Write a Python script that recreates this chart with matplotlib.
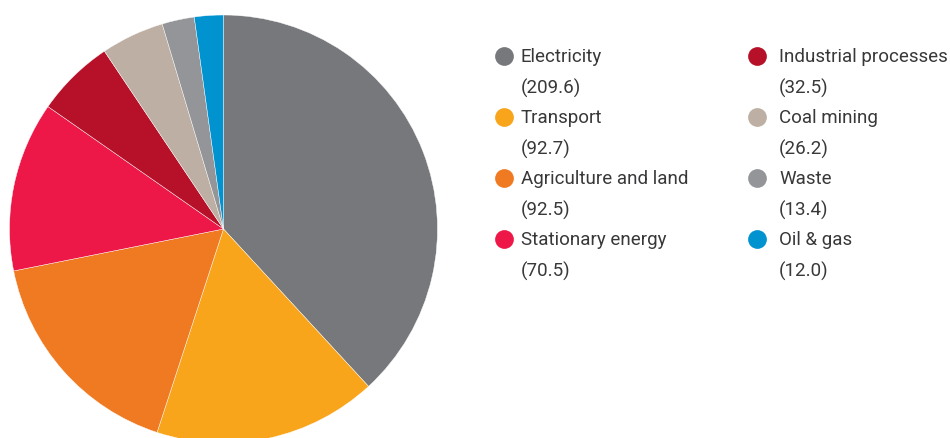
import matplotlib.pyplot as plt

# emissions by sector
sectors = ['Electricity', 'Transport', 'Agriculture and land', 'Stationary energy',
           'Industrial processes', 'Coal mining', 'Waste', 'Oil & gas']
values = [209.6, 92.7, 92.5, 70.5, 32.5, 26.2, 13.4, 12.0]
colours = ['#77787b', '#f8a51b', '#f07a22', '#ed1847',
           '#b7112a', '#bdafa3', '#939598', '#0093d0']

W, H = 950, 439
fig = plt.figure(figsize=(W / 100, H / 100), dpi=100)
ax = fig.add_axes([0, 0, 1, 1])

ax.pie(values, colors=colours, startangle=90, counterclock=False,
       center=(223.5, H - 230), radius=214, frame=True,
       wedgeprops=dict(linewidth=0.3, edgecolor='white'))
ax.set_xlim(0, W)
ax.set_ylim(0, H)
ax.set_aspect('equal')
ax.axis('off')

# legend, two columns of four
dot_x = [504, 757]
text_x = [521, 779]
row_y = [57, 118, 179, 240]
txt = '#38383a'
for i, (name, val, c) in enumerate(zip(sectors, values, colours)):
    col = i // 4
    cy = H - row_y[i % 4]
    ax.plot(dot_x[col], cy, 'o', ms=13.5, color=c, mec='none')
    ax.text(text_x[col], cy, name, fontsize=13.5, family='Roboto', weight='normal',
            color=txt, va='center', ha='left')
    ax.text(text_x[col], cy - 31, '({:.1f})'.format(val), fontsize=13.5,
            family='Roboto', weight='normal', color=txt, va='center', ha='left')

fig.savefig('out.png', dpi=100)
